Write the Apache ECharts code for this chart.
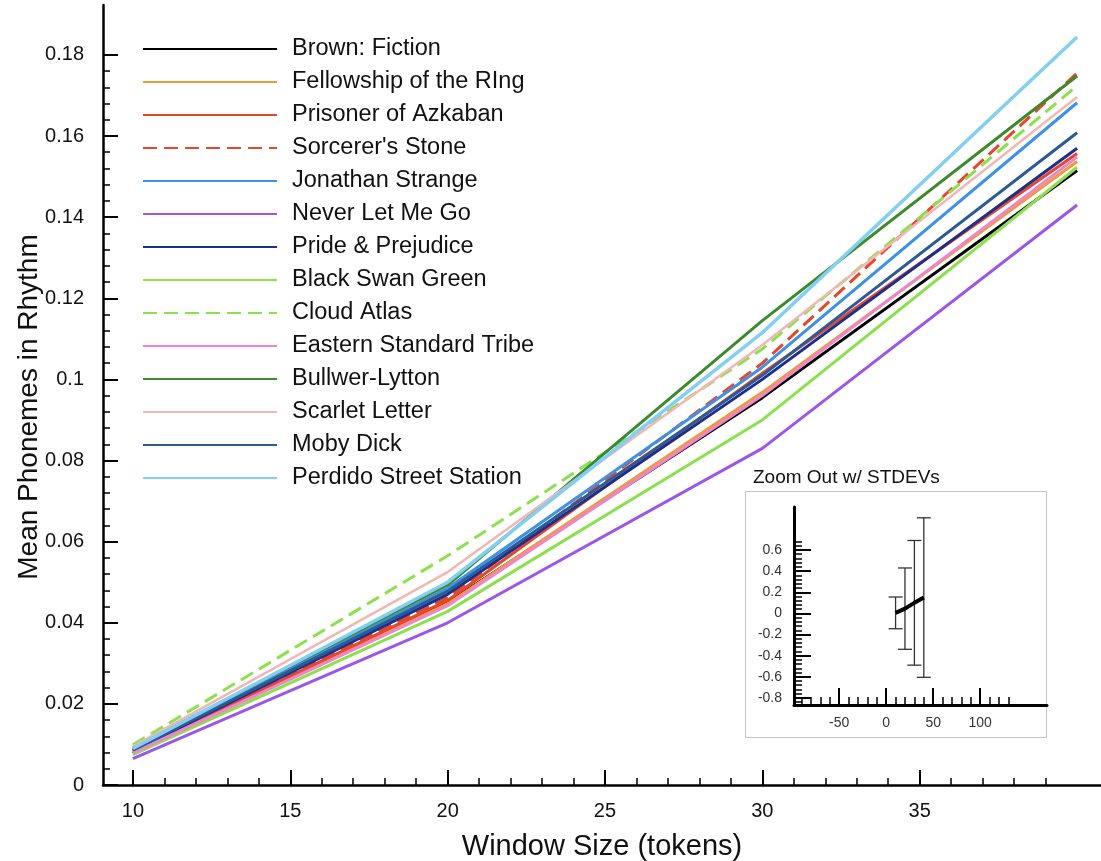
<!DOCTYPE html>
<html><head><meta charset="utf-8">
<script src="https://cdn.jsdelivr.net/npm/echarts@6/dist/echarts.min.js"></script>
<style>html,body{margin:0;padding:0;background:#fff}#c{width:1101px;height:861px}</style>
</head><body><div id="c"></div>
<script>
// ---------- data ----------
const windowSizes = [10, 20, 30, 40];
const brownFiction    = [0.0078, 0.0450, 0.0955, 0.1515];
const fellowship      = [0.0080, 0.0447, 0.0968, 0.1537];
const azkaban         = [0.0082, 0.0455, 0.1015, 0.1557];
const sorcerersStone  = [0.0086, 0.0462, 0.1040, 0.1755];
const jonathanStrange = [0.0088, 0.0485, 0.1030, 0.1682];
const neverLetMeGo    = [0.0065, 0.0400, 0.0830, 0.1430];
const pridePrejudice  = [0.0084, 0.0470, 0.1000, 0.1570];
const blackSwanGreen  = [0.0075, 0.0428, 0.0900, 0.1523];
const cloudAtlas      = [0.0099, 0.0565, 0.1075, 0.1724];
const easternStandard = [0.0079, 0.0442, 0.0960, 0.1548];
const bullwerLytton   = [0.0092, 0.0493, 0.1145, 0.1748];
const scarletLetter   = [0.0095, 0.0525, 0.1085, 0.1696];
const mobyDick        = [0.0086, 0.0478, 0.1010, 0.1608];
const perdidoStreet   = [0.0090, 0.0500, 0.1115, 0.1844];

const seriesNames = ['Brown: Fiction', 'Fellowship of the RIng', 'Prisoner of Azkaban', "Sorcerer's Stone",
  'Jonathan Strange', 'Never Let Me Go', 'Pride & Prejudice', 'Black Swan Green', 'Cloud Atlas',
  'Eastern Standard Tribe', 'Bullwer-Lytton', 'Scarlet Letter', 'Moby Dick', 'Perdido Street Station'];
const seriesValues = [brownFiction, fellowship, azkaban, sorcerersStone, jonathanStrange, neverLetMeGo,
  pridePrejudice, blackSwanGreen, cloudAtlas, easternStandard, bullwerLytton, scarletLetter, mobyDick, perdidoStreet];

// inset (zoom out with standard deviations)
const insetMean  = [0.005, 0.045, 0.100, 0.150];
const insetStdev = [0.150, 0.385, 0.590, 0.755];

// tick labels and titles
const xMajorTicks = [10, 15, 20, 25, 30, 35];
const yMajorTicks = [0, 0.02, 0.04, 0.06, 0.08, 0.1, 0.12, 0.14, 0.16, 0.18];
const insetXTicks = [-50, 0, 50, 100];
const insetYTicks = [-0.8, -0.6, -0.4, -0.2, 0, 0.2, 0.4, 0.6];
const xTitle = 'Window Size (tokens)';
const yTitle = 'Mean Phonemes in Rhythm';
const insetTitle = 'Zoom Out w/ STDEVs';

// ---------- styles ----------
const seriesColors = ['#000000', '#ef9a3e', '#e8452c', '#e8452c', '#3d92e8', '#9b57ea', '#1b2f8c',
  '#8be04e', '#8be04e', '#ec86cc', '#3c8a2c', '#f2b6b4', '#2b5b95', '#82cff3'];
const seriesDash = ['solid', 'solid', 'solid', [14, 7], 'solid', 'solid', 'solid', 'solid', [14, 7],
  'solid', 'solid', 'solid', 'solid', 'solid'];
const seriesWidth = [3, 3, 3, 3, 3, 3, 3, 3, 3, 3, 3, 2.5, 3, 3.5];

function minorList(a, b, step, majors) {
  const out = [];
  const n = Math.round((b - a) / step);
  for (let i = 0; i <= n; i++) {
    const v = +(a + i * step).toFixed(4);
    if (!majors.some(m => Math.abs(m - v) < 1e-9)) out.push(v);
  }
  return out;
}
const xMinor = minorList(11, 39, 1, xMajorTicks);
const yMinor = minorList(0.004, 0.176, 0.004, yMajorTicks);
const insetXMinor = minorList(-90, 130, 10, insetXTicks);
const insetYMinor = minorList(-0.84, 0.68, 0.04, insetYTicks);

const FONT = "'Liberation Sans', Arial, Helvetica, sans-serif";
const fmt = v => String(+(+v).toFixed(3));

function majorAxis(o) {
  return Object.assign({
    type: 'value', splitLine: { show: false },
    axisLine: { show: true, onZero: false, lineStyle: { color: '#000', width: 2.5 } },
    axisTick: { show: true, inside: true, length: 15, lineStyle: { color: '#000', width: 2 } },
    axisLabel: { color: '#111', fontSize: 20, fontFamily: FONT, formatter: fmt }
  }, o);
}
function minorAxis(o) {
  return Object.assign({
    type: 'value', splitLine: { show: false },
    axisLine: { show: false, onZero: false },
    axisLabel: { show: false }
  }, o);
}

const series = seriesNames.map((name, i) => ({
  type: 'line', name, xAxisIndex: 0, yAxisIndex: 0,
  data: windowSizes.map((x, j) => [x, seriesValues[i][j]]),
  symbol: 'none', smooth: false,
  lineStyle: { color: seriesColors[i], width: seriesWidth[i], type: seriesDash[i] },
  itemStyle: { color: seriesColors[i] },
  emphasis: { disabled: true }, silent: true
}));

series.push({
  type: 'custom', name: 'stdev', xAxisIndex: 2, yAxisIndex: 2,
  data: windowSizes.map((x, j) => [x, insetMean[j], insetStdev[j]]),
  encode: { x: 0, y: 1 },
  renderItem(params, api) {
    const x = api.value(0), m = api.value(1), s = api.value(2);
    const t = api.coord([x, m + s]), b = api.coord([x, m - s]);
    const w = 7, st = { stroke: '#333', lineWidth: 1.3 };
    return { type: 'group', children: [
      { type: 'line', shape: { x1: t[0], y1: t[1], x2: b[0], y2: b[1] }, style: st },
      { type: 'line', shape: { x1: t[0] - w, y1: t[1], x2: t[0] + w, y2: t[1] }, style: st },
      { type: 'line', shape: { x1: b[0] - w, y1: b[1], x2: b[0] + w, y2: b[1] }, style: st }
    ] };
  }
});
series.push({
  type: 'line', name: 'mean', xAxisIndex: 2, yAxisIndex: 2,
  data: windowSizes.map((x, j) => [x, insetMean[j]]),
  symbol: 'none', lineStyle: { color: '#000', width: 4 }, silent: true, z: 5
});

const option = {
  animation: false,
  backgroundColor: '#fff',
  textStyle: { fontFamily: FONT },
  title: {
    text: insetTitle, left: 748, top: 463,
    textStyle: { fontSize: 19, fontWeight: 'normal', color: '#111', fontFamily: FONT }
  },
  graphic: [{
    type: 'rect', z: -10, silent: true,
    shape: { x: 745.5, y: 491.5, width: 301, height: 246 },
    style: { fill: 'transparent', stroke: '#c4c4c4', lineWidth: 1 }
  }, {
    type: 'text', silent: true, x: 29, y: 407, rotation: Math.PI / 2,
    style: { text: yTitle, fill: '#111', font: "28px 'Liberation Sans', Arial, sans-serif",
      align: 'center', verticalAlign: 'middle' }
  }],
  legend: {
    data: seriesNames, orient: 'vertical', left: 137, top: 32,
    itemWidth: 134, itemHeight: 14, itemGap: 9, selectedMode: false,
    itemStyle: { opacity: 0 },
    textStyle: { fontSize: 23.5, color: '#111', fontFamily: FONT, lineHeight: 22, padding: [0, 0, 0, 10] }
  },
  grid: [
    { left: 103, right: 0, top: 5, bottom: 76, outerBoundsMode: 'none', containLabel: false },
    { left: 794, top: 507, width: 253, height: 198, outerBoundsMode: 'none', containLabel: false }
  ],
  xAxis: [
    majorAxis({ gridIndex: 0, min: 9.05, max: 40.76, position: 'bottom',
      axisTick: { show: true, inside: true, length: 15, lineStyle: { color: '#000', width: 2 }, customValues: xMajorTicks },
      axisLabel: { color: '#111', fontSize: 20, fontFamily: FONT, margin: 16, customValues: xMajorTicks, formatter: fmt },
      name: xTitle, nameLocation: 'middle', nameGap: 47,
      nameTextStyle: { fontSize: 29, color: '#111', fontFamily: FONT } }),
    minorAxis({ gridIndex: 0, min: 9.05, max: 40.76, position: 'bottom',
      axisTick: { show: true, inside: true, length: 7, lineStyle: { color: '#000', width: 1.5 }, customValues: xMinor } }),
    majorAxis({ gridIndex: 1, min: -98, max: 171, position: 'bottom',
      axisLine: { show: true, onZero: false, lineStyle: { color: '#000', width: 3 } },
      axisTick: { show: true, inside: true, length: 17, lineStyle: { color: '#000', width: 2 }, customValues: insetXTicks },
      axisLabel: { color: '#333', fontSize: 14, fontFamily: FONT, margin: 11, customValues: insetXTicks, formatter: fmt } }),
    minorAxis({ gridIndex: 1, min: -98, max: 171, position: 'bottom',
      axisTick: { show: true, inside: true, length: 8, lineStyle: { color: '#000', width: 1.5 }, customValues: insetXMinor } })
  ],
  yAxis: [
    majorAxis({ gridIndex: 0, min: 0, max: 0.1923, position: 'left',
      axisTick: { show: true, inside: true, length: 15, lineStyle: { color: '#000', width: 2 }, customValues: yMajorTicks },
      axisLabel: { color: '#111', fontSize: 20, fontFamily: FONT, margin: 19, customValues: yMajorTicks, formatter: fmt } }),
    minorAxis({ gridIndex: 0, min: 0, max: 0.1923, position: 'left',
      axisTick: { show: true, inside: true, length: 7, lineStyle: { color: '#000', width: 1.5 }, customValues: yMinor } }),
    majorAxis({ gridIndex: 1, min: -0.867, max: 1.007, position: 'left',
      axisLine: { show: true, onZero: false, lineStyle: { color: '#000', width: 3 } },
      axisTick: { show: true, inside: true, length: 17, lineStyle: { color: '#000', width: 2 }, customValues: insetYTicks },
      axisLabel: { color: '#333', fontSize: 14, fontFamily: FONT, margin: 12, customValues: insetYTicks, formatter: fmt } }),
    minorAxis({ gridIndex: 1, min: -0.867, max: 1.007, position: 'left',
      axisTick: { show: true, inside: true, length: 8, lineStyle: { color: '#000', width: 1.5 }, customValues: insetYMinor } })
  ],
  series
};

const chart = echarts.init(document.getElementById('c'), null, { renderer: 'canvas' });
chart.setOption(option);
</script>
</body></html>
